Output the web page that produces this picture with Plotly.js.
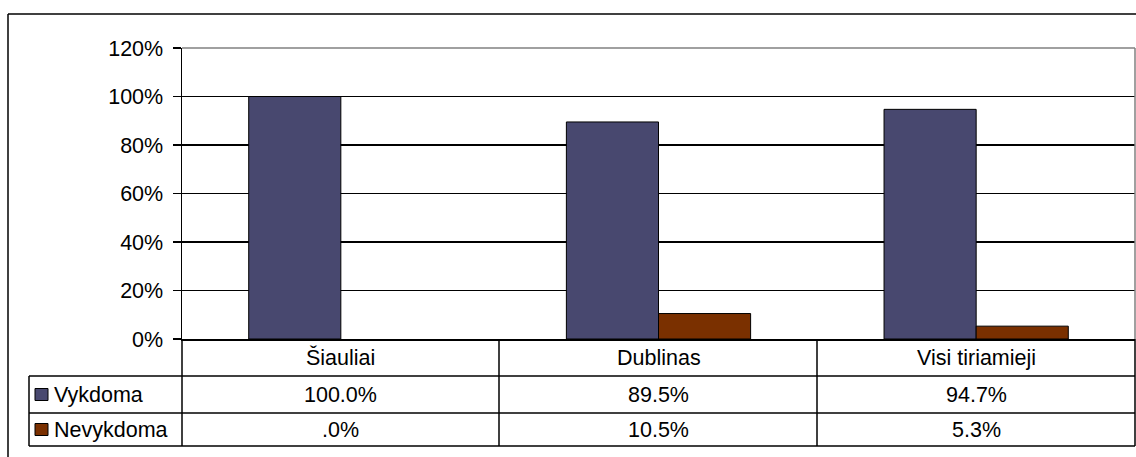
<!DOCTYPE html>
<html>
<head>
<meta charset="utf-8">
<script src="https://cdn.plot.ly/plotly-3.0.1.min.js"></script>
<style>html,body{margin:0;padding:0;background:#fff;}#chart{width:1136px;height:457px;}</style>
</head>
<body>
<div id="chart"></div>
<script>
const categories = ["Šiauliai", "Dublinas", "Visi tiriamieji"];
const seriesNames = ["Vykdoma", "Nevykdoma"];
const vykdoma = [1.000, 0.895, 0.947];
const nevykdoma = [0.000, 0.105, 0.053];
const tableVykdoma = ["100.0%", "89.5%", "94.7%"];
const tableNevykdoma = [".0%", "10.5%", "5.3%"];
const colors = ["#48486f", "#7a3000"];

const W = 1136, H = 457;
const L = 182, R = 1135, T = 48, B = 339;
const px = x => (x - L) / (R - L);
const py = y => (B - y) / (B - T);
const FONT = "Liberation Sans, Arial, sans-serif";
const FS = 21.5;

const outline = vals => vals.map(v => v > 0 ? 1 : 0);
const traces = [
  {type: "bar", name: seriesNames[0], x: categories, y: vykdoma,
   marker: {color: colors[0], line: {color: "#000", width: outline(vykdoma)}}, hoverinfo: "skip"},
  {type: "bar", name: seriesNames[1], x: categories, y: nevykdoma,
   marker: {color: colors[1], line: {color: "#000", width: outline(nevykdoma)}}, hoverinfo: "skip"}
];

const shapes = [];
const line = (x0, y0, x1, y1, color) => shapes.push({type: "line", xref: "paper", yref: "paper",
  x0: px(x0), y0: py(y0), x1: px(x1), y1: py(y1), line: {color: color || "#000", width: 1.5}, layer: "above"});

// outer chart border (cropped on right/bottom)
line(8, 14, 1140, 14);
line(8, 14, 8, 470);
// plot area border top/right (gray)
line(L, T, R, T, "#808080");
line(R, T, R, B, "#808080");
// table
const rowY = [339, 376, 413, 446];
const colX = [182, 499, 817, 1135];
line(182, 339, 182, 446);
colX.slice(1).forEach(x => line(x, 339, x, 446));
line(29, 376, 1135, 376);
line(29, 413, 1135, 413);
line(29, 446, 1135, 446);
line(29, 376, 29, 446);

// legend keys in table
[0, 1].forEach(i => {
  const cy = (rowY[i + 1] + rowY[i + 2]) / 2;
  shapes.push({type: "rect", xref: "paper", yref: "paper",
    x0: px(35), x1: px(48), y0: py(cy - 6), y1: py(cy + 6),
    fillcolor: colors[i], line: {color: "#000", width: 1}, layer: "above"});
});

const annotations = [];
categories.forEach((c, i) => {
  annotations.push({xref: "x", yref: "paper", x: c, y: py((rowY[0] + rowY[1]) / 2), text: c,
    showarrow: false, font: {family: FONT, size: FS, color: "#000"}, xanchor: "center", yanchor: "middle"});
  annotations.push({xref: "x", yref: "paper", x: c, y: py((rowY[1] + rowY[2]) / 2), text: tableVykdoma[i],
    showarrow: false, font: {family: FONT, size: FS, color: "#000"}, xanchor: "center", yanchor: "middle"});
  annotations.push({xref: "x", yref: "paper", x: c, y: py((rowY[2] + rowY[3]) / 2), text: tableNevykdoma[i],
    showarrow: false, font: {family: FONT, size: FS, color: "#000"}, xanchor: "center", yanchor: "middle"});
});
seriesNames.forEach((n, i) => {
  annotations.push({xref: "paper", yref: "paper", x: px(52), y: py((rowY[i + 1] + rowY[i + 2]) / 2), text: n,
    showarrow: false, font: {family: FONT, size: FS, color: "#000"}, xanchor: "left", yanchor: "middle"});
});

const layout = {
  width: W, height: H,
  margin: {l: L, r: W - R, t: T, b: H - B, pad: 0},
  paper_bgcolor: "#fff", plot_bgcolor: "#fff",
  showlegend: false,
  barmode: "group", bargap: 0.42, bargroupgap: 0,
  font: {family: FONT, size: FS, color: "#000"},
  xaxis: {type: "category", showticklabels: false, ticks: "", showgrid: false,
    showline: true, linecolor: "#000", linewidth: 1.5, zeroline: false, fixedrange: true},
  yaxis: {range: [0, 1.2], dtick: 0.2, tick0: 0, tickformat: ".0%", ticks: "outside", ticklen: 8,
    tickcolor: "#000", tickwidth: 1.5, showline: true, linecolor: "#000", linewidth: 1.5,
    showgrid: true, gridcolor: "#000", gridwidth: 1.2, zeroline: false,
    tickfont: {family: FONT, size: FS, color: "#000"}, ticklabelstandoff: 5, fixedrange: true},
  shapes: shapes,
  annotations: annotations
};

Plotly.newPlot("chart", traces, layout, {displayModeBar: false, staticPlot: true});
</script>
</body>
</html>
